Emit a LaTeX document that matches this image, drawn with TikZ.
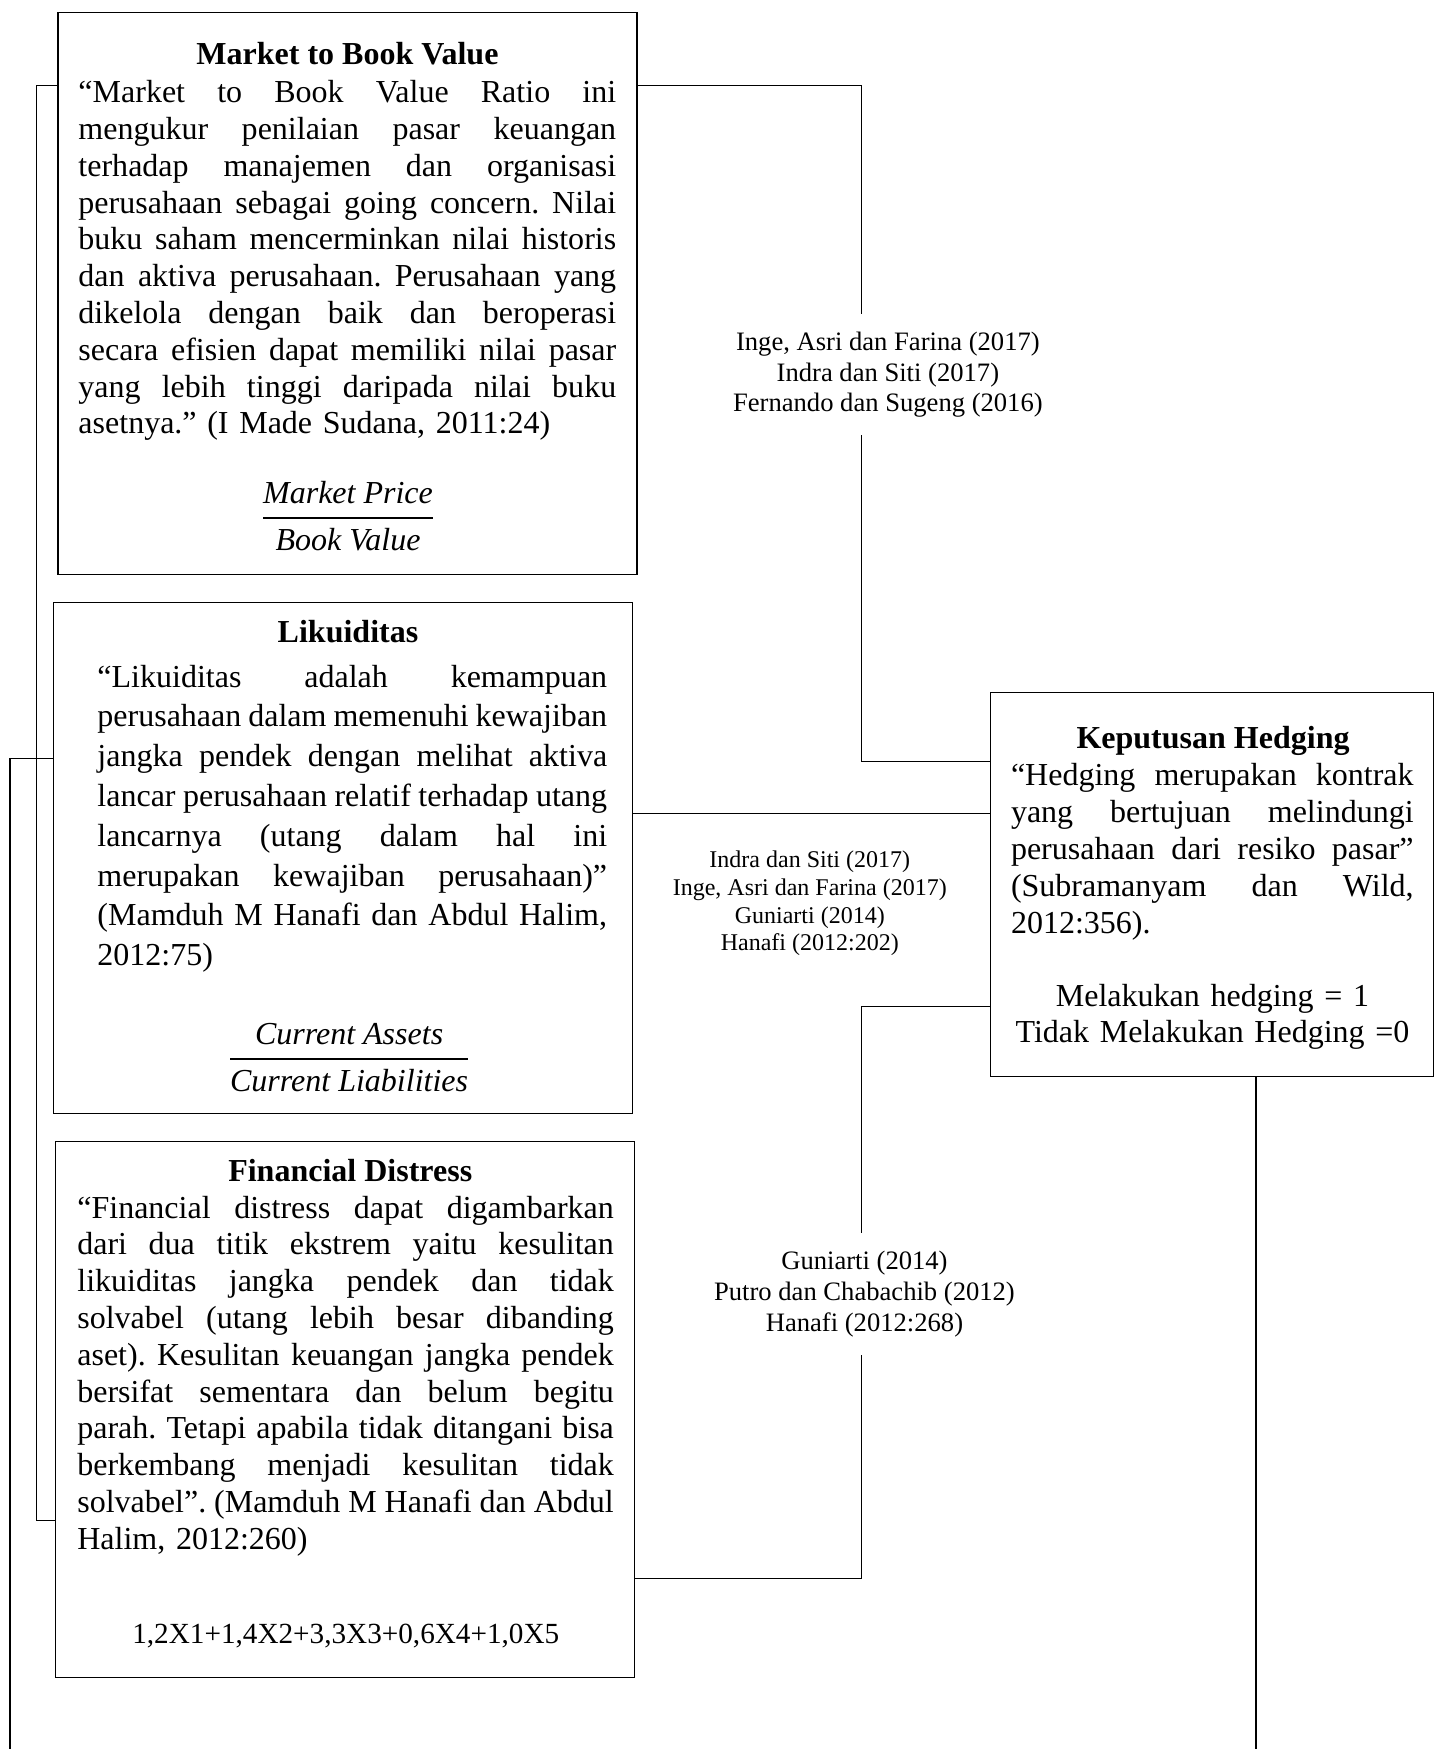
\documentclass[tikz,border=0pt]{standalone}
\usepackage{fontspec}
\setmainfont{Liberation Serif}
\usepackage{amsmath}
\usetikzlibrary{positioning}
\frenchspacing

% one justified line of a paragraph
\newcommand{\jl}[1]{\hbox to\hsize{\spaceskip=0.25em plus 1fil minus 0.15em\relax #1}\par}
% ratio written as a fraction
\newcommand{\fracline}[2]{$\genfrac{}{}{1.2pt}{0}{\mbox{\itshape #1}}{\mbox{\itshape #2}}$}

\begin{document}
\begin{tikzpicture}[x=0.5576pt, y=-0.5576pt,
    box/.style={draw, line width=0.6pt, inner sep=0pt},
    body/.style={inner sep=0pt, anchor=base west, font=\fontsize{16}{18.4}\selectfont},
    head/.style={inner sep=0pt, anchor=base, font=\fontsize{16}{18.4}\selectfont\bfseries},
    ratio/.style={inner sep=0pt, anchor=base, font=\fontsize{16}{18.4}\selectfont},
    ref/.style={align=center, fill=white, inner xsep=2pt, inner ysep=9pt, font=\fontsize{13.3}{15.3}\selectfont},
    link/.style={line width=0.6pt}]
  \useasboundingbox (0,0) rectangle (1293,1568);

  % Market to Book Value
  \node[box, minimum width=289.4pt, minimum height=281pt] (mbv) at (311.5,263) {};
  \node[head] (mbvhead) at (311.5,58) {Market to Book Value};
  \node[body, text width=268.8pt] (mbvtext) at (70,92) {%
    \jl{“Market to Book Value Ratio ini}%
    \jl{mengukur penilaian pasar keuangan}%
    \jl{terhadap manajemen dan organisasi}%
    \jl{perusahaan sebagai going concern. Nilai}%
    \jl{buku saham mencerminkan nilai historis}%
    \jl{dan aktiva perusahaan. Perusahaan yang}%
    \jl{dikelola dengan baik dan beroperasi}%
    \jl{secara efisien dapat memiliki nilai pasar}%
    \jl{yang lebih tinggi daripada nilai buku}%
    asetnya.” (I Made Sudana, 2011:24)};
  \node[ratio] (mbvratio) at (312,472) {\fracline{Market Price}{Book Value}};

  % Likuiditas
  \node[box, minimum width=289.4pt, minimum height=255.4pt] (liq) at (307.5,769) {};
  \node[head] (liqhead) at (312,576) {Likuiditas};
  \node[body, text width=254.8pt, font=\fontsize{16}{19.9}\selectfont] (liqtext) at (87,616) {%
    \jl{“Likuiditas adalah kemampuan}%
    \jl{perusahaan dalam memenuhi kewajiban}%
    \jl{jangka pendek dengan melihat aktiva}%
    \jl{lancar perusahaan relatif terhadap utang}%
    \jl{lancarnya (utang dalam hal ini}%
    \jl{merupakan kewajiban perusahaan)”}%
    \jl{(Mamduh M Hanafi dan Abdul Halim,}%
    2012:75)};
  \node[ratio] (liqratio) at (313,957) {\fracline{Current Assets}{Current Liabilities}};

  % Financial Distress
  \node[box, minimum width=289.4pt, minimum height=268.2pt] (fd) at (309.5,1263.5) {};
  \node[head] (fdhead) at (314,1059) {Financial Distress};
  \node[body, text width=268.2pt] (fdtext) at (69,1092) {%
    \jl{“Financial distress dapat digambarkan}%
    \jl{dari dua titik ekstrem yaitu kesulitan}%
    \jl{likuiditas jangka pendek dan tidak}%
    \jl{solvabel (utang lebih besar dibanding}%
    \jl{aset). Kesulitan keuangan jangka pendek}%
    \jl{bersifat sementara dan belum begitu}%
    \jl{parah. Tetapi apabila tidak ditangani bisa}%
    \jl{berkembang menjadi kesulitan tidak}%
    \jl{solvabel”. (Mamduh M Hanafi dan Abdul}%
    Halim, 2012:260)};
  \node[ratio, font=\fontsize{14.6}{16.8}\selectfont] (fdformula) at (310,1473) {1,2X1+1,4X2+3,3X3+0,6X4+1,0X5};

  % Keputusan Hedging
  \node[box, minimum width=221.4pt, minimum height=191.8pt] (hedge) at (1086.5,793) {};
  \node[head] (hedgehead) at (1087.5,671) {Keputusan Hedging};
  \node[body, text width=201.3pt, font=\fontsize{16}{18.54}\selectfont] (hedgetext) at (906,704) {%
    \jl{“Hedging merupakan kontrak}%
    \jl{yang bertujuan melindungi}%
    \jl{perusahaan dari resiko pasar”}%
    \jl{(Subramanyam dan Wild,}%
    2012:356).};
  \node[ratio, text width=215pt, align=center] (hedgedummy) at (1087,902) {Melakukan hedging = 1\\Tidak Melakukan Hedging =0};

  % connectors
  \coordinate (k1) at (772,77);
  \coordinate (k2) at (772,683);
  \coordinate (m1) at (700,729);
  \coordinate (k3) at (772,1415);
  \coordinate (k4) at (772,902);
  \coordinate (l1) at (33,77);
  \coordinate (l2) at (33,1363);
  \coordinate (l3) at (9,680);
  \coordinate (l4) at (9,1568);
  \coordinate (r1) at (1126,1568);
  \draw[link] (mbv.east |- k1) -- (k1) -- (k2) -- (hedge.west |- k2);
  \draw[link] (liq.east |- m1) -- (hedge.west |- m1);
  \draw[link] (fd.east |- k3) -- (k3) -- (k4) -- (hedge.west |- k4);
  \draw[link] (mbv.west |- l1) -- (l1) -- (l2) -- (fd.west |- l2);
  \draw[link] (liq.west |- l3) -- (l3) -- (l4);
  \draw[link] (hedge.south -| r1) -- (r1);

  % peneliti terdahulu
  \node[ref] (refmbv) at (796,336) {Inge, Asri dan Farina (2017)\\Indra dan Siti (2017)\\Fernando dan Sugeng (2016)};
  \node[ref, font=\fontsize{12}{13.8}\selectfont] (refliq) at (726,810) {Indra dan Siti (2017)\\Inge, Asri dan Farina (2017)\\Guniarti (2014)\\Hanafi (2012:202)};
  \node[ref, font=\fontsize{13.3}{15.6}\selectfont] (reffd) at (775,1160) {Guniarti (2014)\\Putro dan Chabachib (2012)\\Hanafi (2012:268)};
\end{tikzpicture}
\end{document}
